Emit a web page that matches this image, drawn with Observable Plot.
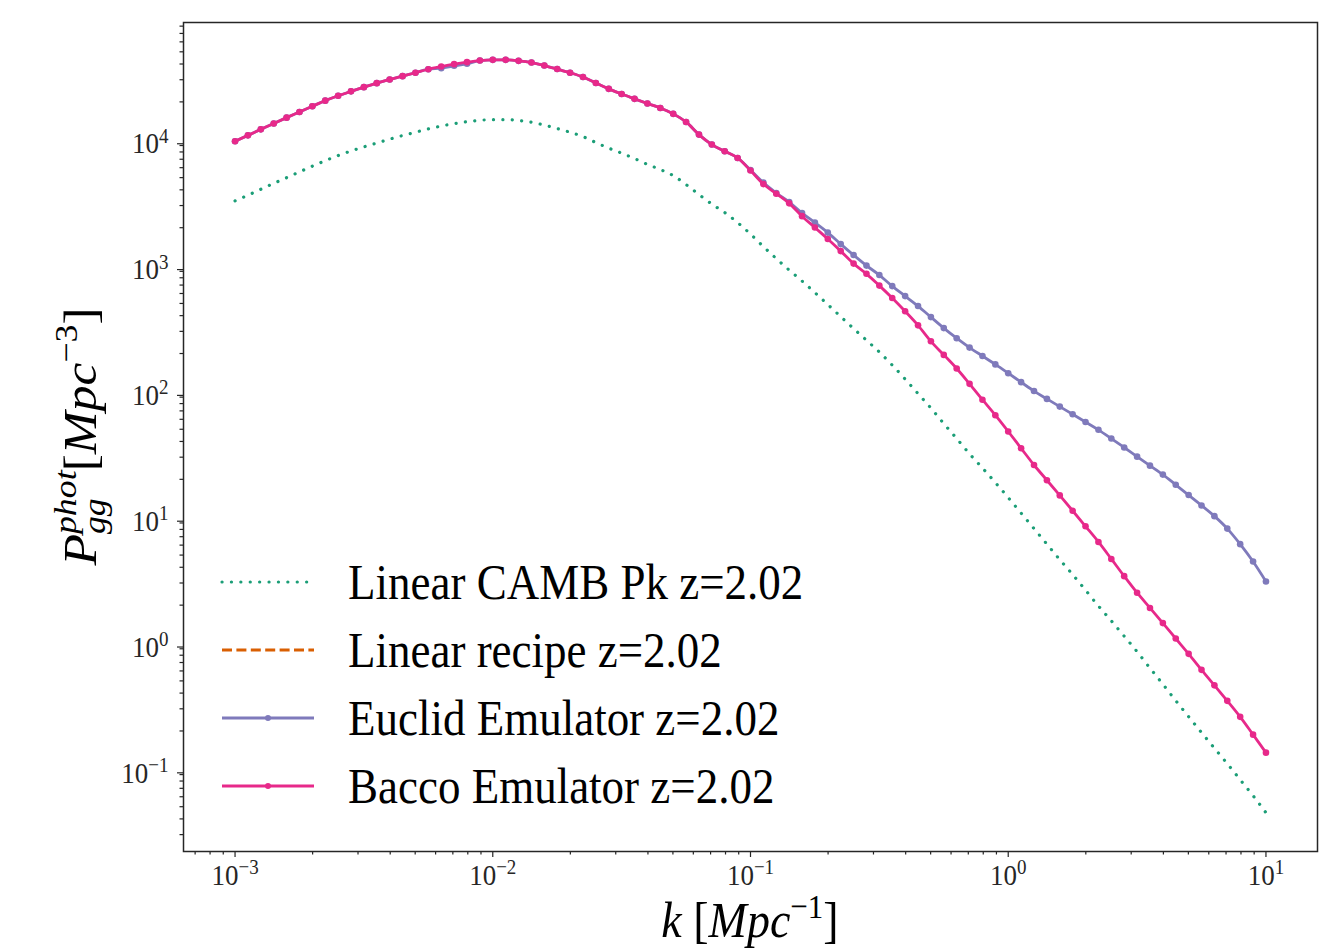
<!DOCTYPE html>
<html><head><meta charset="utf-8">
<script src="https://cdn.jsdelivr.net/npm/d3@7"></script>
<script src="https://cdn.jsdelivr.net/npm/@observablehq/plot@0.6"></script>
<style>body{margin:0;background:#fff}#chart{width:1323px;height:948px}</style>
</head><body><div id="chart"></div>
<script>
// k grid [Mpc^-1]
const k = [
  0.001,0.001122,0.001259,0.001413,0.001585,0.001778,0.001995,0.002239,0.002512,0.002818,
  0.003162,0.003548,0.003981,0.004467,0.005012,0.005623,0.00631,0.007079,0.007943,0.008913,
  0.01,0.01122,0.01259,0.01413,0.01585,0.01778,0.01995,0.02239,0.02512,0.02818,
  0.03162,0.03548,0.03981,0.04467,0.05012,0.05623,0.0631,0.07079,0.07943,0.08913,
  0.1,0.1122,0.1259,0.1413,0.1585,0.1778,0.1995,0.2239,0.2512,0.2818,
  0.3162,0.3548,0.3981,0.4467,0.5012,0.5623,0.631,0.7079,0.7943,0.8913,
  1,1.122,1.259,1.413,1.585,1.778,1.995,2.239,2.512,2.818,
  3.162,3.548,3.981,4.467,5.012,5.623,6.31,7.079,7.943,8.913,10
];
// Linear CAMB Pk z=2.02
const linearCamb = [
  3268,3627,4042,4503,4996,5557,6167,6823,7489,8134,
  8780,9415,10110,10800,11470,12210,12850,13430,13910,14270,
  14450,14450,14210,13800,13090,12270,11470,10600,9500,8576,
  7826,7089,6374,5797,5193,4404,3668,3083,2638,2197,
  1780,1416,1137,921,753,610,490,393,315.7,255,
  205.5,161.8,125.3,96.0,73.7,55.5,42.2,31.9,24.6,18.84,
  14.32,10.78,8.12,6.11,4.60,3.50,2.63,1.97,1.50,1.134,
  0.854,0.632,0.471,0.348,0.260,0.194,0.146,0.110,0.0820,0.0612,0.0448
];
// Linear recipe z=2.02 (not visible in the figure)
const linearRecipe = [];
// Euclid Emulator z=2.02
const euclid = [
  9730,10840,12100,13480,14990,16630,18460,20460,22380,24250,
  26190,28180,30100,32040,34100,36350,37050,38700,40150,42620,
  43170,43170,42390,41080,38900,36480,34100,31500,28240,25390,
  23080,21140,19400,17870,16060,13850,10990,9160,8100,7170,
  5750,4560,3770,3197,2614,2197,1829,1482,1212,1000,
  840.5,687,572,476.6,389.5,318.6,264.8,222.9,191.1,163.9,
  139.5,118.4,100.6,87.2,75.7,65.8,57.1,49.5,42.2,35.8,
  30.3,25.7,21.8,18.1,15.0,12.4,10.2,8.12,6.11,4.44,3.08
];
// Bacco Emulator z=2.02
const bacco = [
  9730,10840,12100,13480,14990,16630,18460,20460,22380,24250,
  26190,28180,30100,32040,34100,36350,38180,39900,41390,42620,
  43170,43170,42390,41080,38900,36480,34100,31500,28240,25390,
  23080,21140,19400,17870,16060,13850,10990,9160,8100,7170,
  5690,4444,3728,3122,2470,2005,1625,1303,1037,860,
  693,552,433,335,250,195,152,114.8,85.9,64.7,
  48.0,35.3,26.0,19.68,14.90,11.25,8.47,6.36,4.66,3.40,
  2.51,1.90,1.44,1.086,0.820,0.612,0.461,0.347,0.259,0.187,0.1345
];
const seriesNames = ["Linear CAMB Pk z=2.02","Linear recipe z=2.02","Euclid Emulator z=2.02","Bacco Emulator z=2.02"];
const seriesColors = ["#1b9e77","#d95f02","#7f7abb","#e7298a"];
const xMajor = [1e-3,1e-2,1e-1,1,10];
const xMajorLabels = ["10^−3","10^−2","10^−1","10^0","10^1"];
const yMajor = [1e-1,1,10,100,1000,10000];
const yMajorLabels = ["10^−1","10^0","10^1","10^2","10^3","10^4"];

const xDomain = [Math.pow(10,-3.2), Math.pow(10,1.2)];
const yDomain = [Math.pow(10,-1.657), Math.pow(10,4.932)];
function minorTicks(dom){
  const out=[];
  for(let e=-5;e<=6;e++) for(let m=2;m<=9;m++){const v=m*Math.pow(10,e); if(v>=dom[0]&&v<=dom[1]) out.push(v);}
  return out;
}
const toRows = arr => arr.map((P,i)=>({k:k[i],P}));
const dLin = toRows(linearCamb), dRec = toRows(linearRecipe), dEuc = toRows(euclid), dBac = toRows(bacco);

const W=1323,H=948, ML=183, MR=6, MT=22, MB=97;
const axisStroke="#262626";
const serif="'Liberation Serif', 'DejaVu Serif', serif";
const svg = Plot.plot({
  width:W, height:H, marginLeft:ML, marginRight:MR, marginTop:MT, marginBottom:MB,
  style:{background:"#fff", fontFamily:serif, color:axisStroke},
  x:{type:"log", domain:xDomain, label:null},
  y:{type:"log", domain:yDomain, label:null},
  marks:[
    Plot.axisX({ticks:minorTicks(xDomain), tickSize:3.5, tickFormat:()=>"", label:null, stroke:axisStroke, strokeWidth:1.2}),
    Plot.axisY({ticks:minorTicks(yDomain), tickSize:3.5, tickFormat:()=>"", label:null, stroke:axisStroke, strokeWidth:1.2}),
    Plot.axisX({ticks:xMajor, tickSize:6, tickPadding:6, fontSize:27, stroke:axisStroke, strokeWidth:1.2,
      tickFormat:d=>xMajorLabels[xMajor.indexOf(d)], label:null}),
    Plot.axisY({ticks:yMajor, tickSize:6, tickPadding:9, fontSize:27, dy:4, stroke:axisStroke, strokeWidth:1.2,
      tickFormat:d=>yMajorLabels[yMajor.indexOf(d)], label:null}),
    Plot.line(dLin,{x:"k",y:"P",stroke:seriesColors[0],strokeWidth:3.2,strokeDasharray:"0.1,9.3",strokeLinecap:"round",curve:"monotone-x"}),
    Plot.line(dRec,{x:"k",y:"P",stroke:seriesColors[1],strokeWidth:2.6,strokeDasharray:"10,4.4"}),
    Plot.line(dEuc,{x:"k",y:"P",stroke:seriesColors[2],strokeWidth:2.8,curve:"monotone-x"}),
    Plot.dot(dEuc,{x:"k",y:"P",fill:seriesColors[2],r:3.3}),
    Plot.line(dBac,{x:"k",y:"P",stroke:seriesColors[3],strokeWidth:2.8,curve:"monotone-x"}),
    Plot.dot(dBac,{x:"k",y:"P",fill:seriesColors[3],r:3.3}),
    Plot.frame({stroke:axisStroke, strokeWidth:1.5})
  ]
});
const S = d3.select(svg);
const STR = 1.12; // vertical glyph stretch of the reference
// superscript tick labels
S.selectAll('g[aria-label="x-axis tick label"] text, g[aria-label="y-axis tick label"] text').each(function(){
  const s=this.textContent; const parts=s.split("^");
  if(!s) return;
  const t=d3.select(this); t.text(null);
  t.append("tspan").text(parts[0]);
  if(parts[1]!==undefined) t.append("tspan").attr("dy","-0.5em").attr("font-size","19px").text(parts[1]);
  const tr=t.attr("transform"); if(tr) t.attr("transform", tr+` scale(1,${STR})`);
});
// x label
const cx=(ML+(W-MR))/2;
const xl=S.append("text").attr("transform",`translate(${cx},937) scale(1,${STR})`).attr("text-anchor","middle")
  .attr("font-family",serif).attr("font-size",46).attr("fill","#000");
xl.append("tspan").attr("font-style","italic").text("k");
xl.append("tspan").text(" [");
xl.append("tspan").attr("font-style","italic").text("Mpc");
xl.append("tspan").attr("dy",-17).attr("font-size",31).text("−1");
xl.append("tspan").attr("dy",17).text("]");
// y label
const yg=S.append("g").attr("transform",`translate(96,440) scale(1,${STR}) rotate(-90)`)
  .attr("font-family",serif).attr("fill","#000").attr("text-anchor","start");
yg.append("text").attr("x",-112).attr("font-size",46).attr("font-style","italic").text("P");
yg.append("text").attr("x",-84).attr("y",9).attr("font-size",32).attr("font-style","italic").text("gg");
yg.append("text").attr("x",-84).attr("y",-20).attr("font-size",32).attr("font-style","italic").text("phot");
const yl=yg.append("text").attr("x",-28).attr("font-size",46);
yl.append("tspan").text("[");
yl.append("tspan").attr("font-style","italic").text("Mpc");
yl.append("tspan").attr("dy",-19).attr("font-size",32).text("−3");
yl.append("tspan").attr("dy",19).text("]");
// legend
const lg=S.append("g").attr("font-family",serif).attr("text-anchor","start");
const rowY=[582,650,718,786];
const dash=["0.1,9.3","10,4.4",null,null];
seriesNames.forEach((nm,i)=>{
  const y=rowY[i];
  const ln=lg.append("line").attr("x1",222).attr("x2",314).attr("y1",y).attr("y2",y)
    .attr("stroke",seriesColors[i]).attr("stroke-width",3);
  if(dash[i]) ln.attr("stroke-dasharray",dash[i]);
  if(i===0) ln.attr("stroke-linecap","round").attr("stroke-width",3.2);
  if(i>=2) lg.append("circle").attr("cx",268).attr("cy",y).attr("r",3).attr("fill",seriesColors[i]);
  lg.append("text").attr("transform",`translate(348,${y}) scale(1,${STR})`).attr("dy","0.34em")
    .attr("font-size",45).attr("fill","#000").text(nm);
});
document.getElementById("chart").appendChild(svg);
</script></body></html>
